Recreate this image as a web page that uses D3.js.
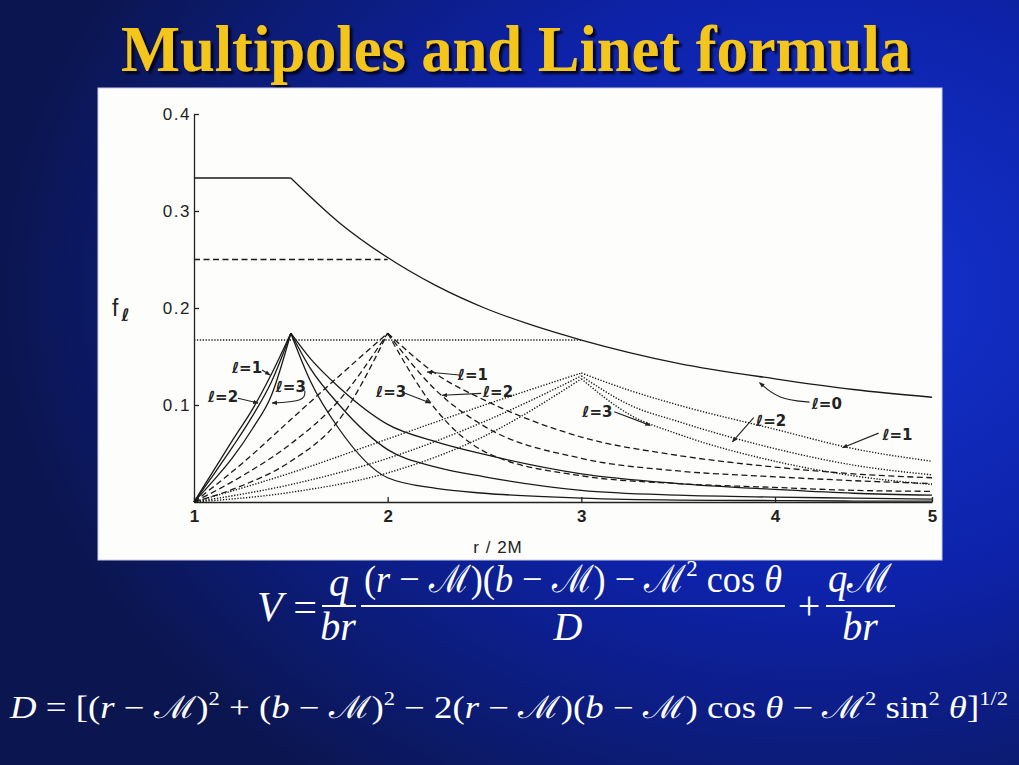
<!DOCTYPE html>
<html>
<head>
  <meta charset="utf-8">
  <script src="https://d3js.org/d3.v7.min.js"></script>
  <style>
    body { margin: 0; background: #0c1a5c; }
    .ytk text { font-family: 'Liberation Sans', Arial, sans-serif; font-size: 17px; letter-spacing: 1.5px; fill: #222; }
    .xtk text { font-family: 'Liberation Sans', Arial, sans-serif; font-size: 17px; font-weight: bold; fill: #222; }
    .lbl { font-family: 'DejaVu Sans', sans-serif; font-size: 15px; font-weight: bold; fill: #222; }
    .math { font-family: 'Liberation Serif', 'Times New Roman', serif; fill: #fff; }
  </style>
</head>
<body>
<div id="chart"></div>
<script>

  // axis ticks
  var rTicks = [1, 2, 3, 4, 5];
  var fTicks = [0.1, 0.2, 0.3, 0.4];

  // l = 0 envelope (after the b = 1.5 plateau)
  var l0R = [1.5, 1.75, 2, 2.25, 2.5, 2.75, 3, 3.5, 4, 4.5, 5];
  var l0F = [0.334, 0.288, 0.252, 0.223, 0.2, 0.182, 0.167, 0.143, 0.127, 0.116, 0.108];

  // plateaus inside the charge radius: b, f, line style
  var plateauB = [1.5, 2, 3];
  var plateauF = [0.334, 0.25, 0.167];
  var plateauStyle = ['solid', 'dashed', 'dotted'];

  // charge at b = 1.5 (solid)
  var b15RiseR = [1, 1.1, 1.2, 1.3, 1.4, 1.5];
  var b15RiseL1 = [0, 0.032, 0.064, 0.095, 0.132, 0.174];
  var b15RiseL2 = [0, 0.028, 0.057, 0.088, 0.124, 0.174];
  var b15RiseL3 = [0, 0.022, 0.046, 0.075, 0.11, 0.174];
  var b15FallR = [1.5, 1.6, 1.75, 2, 2.25, 2.5, 3, 3.5, 4, 4.5, 5];
  var b15FallL1 = [0.174, 0.148, 0.118, 0.08, 0.062, 0.049, 0.029, 0.019, 0.013, 0.009, 0.007];
  var b15FallL2 = [0.174, 0.138, 0.1, 0.054, 0.036, 0.026, 0.012, 0.007, 0.005, 0.004, 0.003];
  var b15FallL3 = [0.174, 0.125, 0.075, 0.025, 0.014, 0.009, 0.004, 0.002, 0.0015, 0.001, 0.001];

  // charge at b = 2 (dashed)
  var b2RiseR = [1, 1.25, 1.5, 1.75, 2];
  var b2RiseL1 = [0, 0.04, 0.085, 0.13, 0.174];
  var b2RiseL2 = [0, 0.027, 0.06, 0.105, 0.174];
  var b2RiseL3 = [0, 0.017, 0.042, 0.085, 0.174];
  var b2FallR = [2, 2.25, 2.5, 3, 3.5, 4, 4.5, 5];
  var b2FallL1 = [0.174, 0.132, 0.105, 0.067, 0.048, 0.036, 0.029, 0.025];
  var b2FallL2 = [0.174, 0.115, 0.078, 0.045, 0.032, 0.026, 0.022, 0.019];
  var b2FallL3 = [0.174, 0.095, 0.052, 0.027, 0.019, 0.015, 0.012, 0.011];

  // charge at b = 3 (dotted)
  var b3RiseR = [1, 1.5, 2, 2.5, 3];
  var b3RiseL1 = [0, 0.03, 0.065, 0.1, 0.133];
  var b3RiseL2 = [0, 0.018, 0.045, 0.083, 0.13];
  var b3RiseL3 = [0, 0.01, 0.03, 0.068, 0.127];
  var b3FallR = [3, 3.25, 3.5, 4, 4.5, 5];
  var b3FallL1 = [0.133, 0.115, 0.1, 0.075, 0.055, 0.042];
  var b3FallL2 = [0.13, 0.1, 0.083, 0.055, 0.038, 0.028];
  var b3FallL3 = [0.127, 0.09, 0.07, 0.042, 0.027, 0.018];

  // curve labels: text position and leader path, in (r, f)
  var labelText = ['ℓ=1', 'ℓ=2', 'ℓ=3', 'ℓ=1', 'ℓ=2', 'ℓ=3', 'ℓ=3', 'ℓ=2', 'ℓ=0', 'ℓ=1'];
  var labelPos = [[1.274, 0.138], [1.15, 0.108], [1.5, 0.119], [2.44, 0.131], [2.57, 0.113],
                  [2.018, 0.113], [3.083, 0.093], [3.98, 0.0835], [4.33, 0.101], [4.78, 0.069]];
  var labelLeader = [
    [[1.351, 0.136], [1.393, 0.131]],
    [[1.227, 0.107], [1.331, 0.102]],
    [[1.572, 0.115], [1.575, 0.104], [1.403, 0.102]],
    [[2.37, 0.131], [2.204, 0.134]],
    [[2.483, 0.112], [2.282, 0.11]],
    [[2.09, 0.112], [2.22, 0.102]],
    [[3.17, 0.093], [3.356, 0.079]],
    [[3.89, 0.087], [3.78, 0.062]],
    [[4.22, 0.103], [4.02, 0.106], [3.92, 0.123]],
    [[4.66, 0.071], [4.43, 0.056]]
  ];

  var W = 1019, H = 765;
  var dashes = { solid: null, dashed: '6,3.5', dotted: '1.3,1.6' };

  var svg = d3.select('#chart').append('svg')
    .attr('width', W).attr('height', H);

  var defs = svg.append('defs');
  var grad = defs.append('radialGradient').attr('id', 'bg')
    .attr('cx', '80%').attr('cy', '38%').attr('r', '80%');
  grad.append('stop').attr('offset', '0%').attr('stop-color', '#1434d2');
  grad.append('stop').attr('offset', '50%').attr('stop-color', '#0d22a8');
  grad.append('stop').attr('offset', '100%').attr('stop-color', '#0b1650');

  var shadow = defs.append('filter').attr('id', 'shadow')
    .attr('x', '-5%').attr('y', '-20%').attr('width', '110%').attr('height', '140%');
  shadow.append('feDropShadow').attr('dx', 3).attr('dy', 3).attr('stdDeviation', 1)
    .attr('flood-color', '#000018').attr('flood-opacity', 0.9);

  defs.append('marker').attr('id', 'arr')
    .attr('viewBox', '0 0 10 10').attr('refX', 9).attr('refY', 5)
    .attr('markerWidth', 5).attr('markerHeight', 5).attr('orient', 'auto')
    .append('path').attr('d', 'M0,1 L10,5 L0,9 z').attr('fill', '#222');

  svg.append('rect').attr('width', W).attr('height', H).attr('fill', 'url(#bg)');

  // title
  svg.append('text')
    .attr('x', 121).attr('y', 71)
    .attr('textLength', 790).attr('lengthAdjust', 'spacingAndGlyphs')
    .style('font-family', "'Liberation Serif', 'Times New Roman', serif")
    .style('font-weight', 'bold').style('font-size', '66px')
    .attr('fill', '#f4c61f').attr('filter', 'url(#shadow)')
    .text('Multipoles and Linet formula');

  // white panel holding the figure
  svg.append('rect').attr('x', 98).attr('y', 88).attr('width', 844).attr('height', 472)
    .attr('fill', '#fdfdfb').attr('stroke', '#c8cce8').attr('stroke-width', 1);

  var x = d3.scaleLinear().domain([1, 4, 5]).range([194, 775, 932]);
  var y = d3.scaleLinear().domain([0, 0.4]).range([502, 114]);

  var g = svg.append('g');

  g.append('g').attr('class', 'ytk').attr('transform', 'translate(' + x(1) + ',0)')
    .call(d3.axisLeft(y).tickValues(fTicks).tickSizeInner(-5).tickSizeOuter(0)
      .tickPadding(3).tickFormat(d3.format('.1f')))
    .call(function (a) { a.selectAll('path, line').attr('stroke', '#222').attr('stroke-width', 1.3); });

  g.append('g').attr('class', 'xtk').attr('transform', 'translate(0,' + y(0) + ')')
    .call(d3.axisBottom(x).tickValues(rTicks).tickSizeInner(-5).tickSizeOuter(0)
      .tickPadding(8).tickFormat(d3.format('d')))
    .call(function (a) { a.selectAll('path, line').attr('stroke', '#222').attr('stroke-width', 1.3); });

  g.append('text').attr('x', x(2.57)).attr('y', 553)
    .attr('text-anchor', 'middle')
    .style('font-family', "'Liberation Sans', Arial, sans-serif").style('font-size', '17px')
    .style('letter-spacing', '1px')
    .attr('fill', '#222').text('r / 2M');

  var fl = g.append('text').attr('x', 112).attr('y', y(0.2) + 8)
    .style('font-family', "'Liberation Sans', Arial, sans-serif").attr('fill', '#222');
  fl.append('tspan').style('font-size', '23px').text('f');
  fl.append('tspan').attr('dy', 5).attr('dx', 3).style('font-size', '17px')
    .style('font-weight', 'bold').style('font-family', "'DejaVu Sans', sans-serif").text('ℓ');

  var line = d3.line().x(function (d) { return x(d[0]); }).y(function (d) { return y(d[1]); })
    .curve(d3.curveMonotoneX);
  var straight = d3.line().x(function (d) { return x(d[0]); }).y(function (d) { return y(d[1]); });
  var bendy = d3.line().x(function (d) { return x(d[0]); }).y(function (d) { return y(d[1]); })
    .curve(d3.curveBasis);

  function zip(rs, fs) { return rs.map(function (r, i) { return [r, fs[i]]; }); }

  var curves = [
    { style: 'solid', pts: zip(l0R, l0F) },
    { style: 'solid', pts: zip(b15RiseR, b15RiseL1) },
    { style: 'solid', pts: zip(b15RiseR, b15RiseL2) },
    { style: 'solid', pts: zip(b15RiseR, b15RiseL3) },
    { style: 'solid', pts: zip(b15FallR, b15FallL1) },
    { style: 'solid', pts: zip(b15FallR, b15FallL2) },
    { style: 'solid', pts: zip(b15FallR, b15FallL3) },
    { style: 'dashed', pts: zip(b2RiseR, b2RiseL1) },
    { style: 'dashed', pts: zip(b2RiseR, b2RiseL2) },
    { style: 'dashed', pts: zip(b2RiseR, b2RiseL3) },
    { style: 'dashed', pts: zip(b2FallR, b2FallL1) },
    { style: 'dashed', pts: zip(b2FallR, b2FallL2) },
    { style: 'dashed', pts: zip(b2FallR, b2FallL3) },
    { style: 'dotted', pts: zip(b3RiseR, b3RiseL1) },
    { style: 'dotted', pts: zip(b3RiseR, b3RiseL2) },
    { style: 'dotted', pts: zip(b3RiseR, b3RiseL3) },
    { style: 'dotted', pts: zip(b3FallR, b3FallL1) },
    { style: 'dotted', pts: zip(b3FallR, b3FallL2) },
    { style: 'dotted', pts: zip(b3FallR, b3FallL3) }
  ];
  plateauB.forEach(function (b, i) {
    curves.push({ style: plateauStyle[i], pts: [[1, plateauF[i]], [b, plateauF[i]]] });
  });

  g.selectAll('path.curve').data(curves).enter().append('path')
    .attr('class', 'curve')
    .attr('d', function (d) { return line(d.pts); })
    .attr('fill', 'none')
    .attr('stroke', '#1a1a1a')
    .attr('stroke-width', function (d) { return d.style === 'dotted' ? 1.4 : 1.3; })
    .attr('stroke-dasharray', function (d) { return dashes[d.style]; });

  g.selectAll('path.leader').data(labelLeader).enter().append('path')
    .attr('class', 'leader')
    .attr('d', function (d) { return d.length > 2 ? bendy(d) : straight(d); })
    .attr('fill', 'none').attr('stroke', '#222').attr('stroke-width', 1.1)
    .attr('marker-end', 'url(#arr)');

  g.selectAll('text.lbl').data(labelText).enter().append('text')
    .attr('class', 'lbl')
    .attr('x', function (d, i) { return x(labelPos[i][0]); })
    .attr('y', function (d, i) { return y(labelPos[i][1]) + 5; })
    .attr('text-anchor', 'middle')
    .text(function (d) { return d; });

  // Linet formula
  function mathText(px, py, size, len, runs, anchor) {
    var t = svg.append('text').attr('class', 'math')
      .attr('x', px).attr('y', py).style('font-size', size + 'px')
      .attr('text-anchor', anchor || 'start');
    if (len) t.attr('textLength', len).attr('lengthAdjust', 'spacingAndGlyphs');
    var up = 0;
    runs.forEach(function (r) {
      var s = t.append('tspan').text(r[0]);
      var kind = r[1] || 'r';
      if (kind === 'i') s.style('font-style', 'italic');
      if (kind === 'sup') {
        s.style('font-size', Math.round(size * 0.62) + 'px').attr('dy', -size * 0.42 - up);
        up = -size * 0.42;
      } else if (up) {
        s.attr('dy', -up);
        up = 0;
      }
    });
    return t;
  }
  function bar(x1, x2, yy) {
    svg.append('line').attr('x1', x1).attr('x2', x2).attr('y1', yy).attr('y2', yy)
      .attr('stroke', '#fff').attr('stroke-width', 2);
  }

  var M = 'ℳ';
  mathText(257, 621, 42, 60, [['V', 'i'], [' = ']]);
  mathText(339, 596, 40, null, [['q', 'i']], 'middle');
  bar(322, 356, 606);
  mathText(338, 640, 40, null, [['br', 'i']], 'middle');
  mathText(364, 592, 38, 418, [['('], ['r', 'i'], [' − ' + M + ')('], ['b', 'i'], [' − ' + M + ') − ' + M],
    ['2', 'sup'], [' cos '], ['θ', 'i']]);
  bar(361, 785, 606);
  mathText(568, 640, 40, null, [['D', 'i']], 'middle');
  mathText(809, 619, 40, null, [['+']], 'middle');
  mathText(860, 592, 40, 64, [['q', 'i'], [M]], 'middle');
  bar(826, 895, 606);
  mathText(860, 640, 40, null, [['br', 'i']], 'middle');

  mathText(10, 718, 31, 998, [['D', 'i'], [' = [('], ['r', 'i'], [' − ' + M + ')'], ['2', 'sup'],
    [' + ('], ['b', 'i'], [' − ' + M + ')'], ['2', 'sup'], [' − 2('], ['r', 'i'], [' − ' + M + ')('],
    ['b', 'i'], [' − ' + M + ') cos '], ['θ', 'i'], [' − ' + M], ['2', 'sup'], [' sin'], ['2', 'sup'],
    [' '], ['θ', 'i'], [']'], ['1/2', 'sup']]);

</script>
</body>
</html>
